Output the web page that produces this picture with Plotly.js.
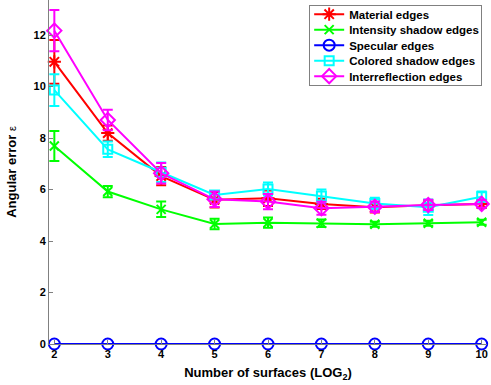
<!DOCTYPE html>
<html><head><meta charset="utf-8">
<script src="https://cdn.plot.ly/plotly-3.0.1.min.js"></script>
<style>html,body{margin:0;padding:0;background:#fff;}#chart{width:491px;height:385px;}</style>
</head><body><div id="chart"></div>
<script>
const xVals = [2, 3, 4, 5, 6, 7, 8, 9, 10];
const seriesNames = ["Material edges", "Intensity shadow edges", "Specular edges", "Colored shadow edges", "Interreflection edges"];
const material = [10.96, 8.19, 6.52, 5.6, 5.66, 5.44, 5.31, 5.39, 5.44];
const materialErr = [0.85, 0.3, 0.35, 0.3, 0.3, 0.2, 0.2, 0.2, 0.15];
const intensity = [7.69, 5.92, 5.23, 4.66, 4.71, 4.69, 4.65, 4.69, 4.73];
const intensityErr = [0.58, 0.22, 0.3, 0.2, 0.2, 0.15, 0.1, 0.1, 0.1];
const specular = [0, 0, 0, 0, 0, 0, 0, 0, 0];
const specularErr = [0, 0, 0, 0, 0, 0, 0, 0, 0];
const colored = [9.86, 7.56, 6.67, 5.79, 6.02, 5.75, 5.46, 5.31, 5.72];
const coloredErr = [0.62, 0.3, 0.38, 0.15, 0.25, 0.25, 0.22, 0.3, 0.2];
const interrefl = [12.17, 8.7, 6.63, 5.62, 5.53, 5.27, 5.33, 5.4, 5.44];
const interreflErr = [0.8, 0.4, 0.4, 0.3, 0.3, 0.25, 0.2, 0.2, 0.15];
const yTicks = [0, 2, 4, 6, 8, 10, 12];

const colors = ["#ff0000", "#00ff00", "#0000ff", "#00ffff", "#ff00ff"];
const symbols = ["asterisk-open", "x-thin-open", "circle-open", "square-open", "diamond-open"];
const sizes = [11, 9, 11, 9, 11];
const ys = [material, intensity, specular, colored, interrefl];
const errs = [materialErr, intensityErr, specularErr, coloredErr, interreflErr];

const traces = ys.map((y, i) => ({
  x: xVals, y: y, name: seriesNames[i], type: "scatter", mode: "lines+markers",
  line: {color: colors[i], width: 2},
  marker: {symbol: symbols[i], size: sizes[i], color: colors[i], line: {color: colors[i], width: 2}},
  error_y: {type: "data", array: errs[i], visible: i !== 2, color: colors[i], thickness: 2, width: 5},
  cliponaxis: false
}));

const font = "Liberation Sans, Arial, sans-serif";
const layout = {
  width: 491, height: 385,
  margin: {l: 49, r: 4, t: 0, b: 41},
  paper_bgcolor: "#fff", plot_bgcolor: "#fff",
  font: {family: font, size: 11, color: "#000", weight: "bold"},
  showlegend: true,
  legend: {x: 0.594, y: 0.985, xanchor: "left", yanchor: "top",
    bordercolor: "#808080", borderwidth: 1, bgcolor: "#fff",
    font: {family: font, size: 11.5, color: "#000", weight: "bold"}, tracegroupgap: 0},
  xaxis: {range: [1.9, 10.1], tickvals: xVals, ticktext: xVals.map(String), showgrid: false, zeroline: false,
    showline: true, linecolor: "#808080", linewidth: 1, ticks: "inside", ticklen: 4, tickcolor: "#808080",
    tickfont: {family: font, size: 11, color: "#000", weight: "bold"},
    title: {text: "Number of surfaces (LOG<sub>2</sub>)", font: {family: font, size: 13, color: "#000", weight: "bold"}, standoff: 8}},
  yaxis: {range: [0, 13.36], tickvals: yTicks, showgrid: false, zeroline: false,
    showline: true, linecolor: "#808080", linewidth: 1, ticks: "inside", ticklen: 4, tickcolor: "#808080",
    tickfont: {family: font, size: 11, color: "#000", weight: "bold"},
    title: {text: "Angular error <span style='font-weight:normal;font-size:11px'>ε</span>", font: {family: font, size: 13, color: "#000", weight: "bold"}, standoff: 13}}
};
Plotly.newPlot("chart", traces, layout, {staticPlot: true, displayModeBar: false}).then(function(gd) {
  // tighten legend rows to match the reference spacing
  const items = gd.querySelectorAll(".legend .traces");
  const rowH = 15.5, first = 9;
  items.forEach(function(el, i) {
    el.setAttribute("transform", "translate(0," + (first + i * rowH) + ")");
  });
  const bg = gd.querySelector(".legend rect.bg");
  if (bg) { bg.setAttribute("height", String(first + 4 * rowH + 9)); bg.setAttribute("width", "172"); }
});
</script></body></html>
